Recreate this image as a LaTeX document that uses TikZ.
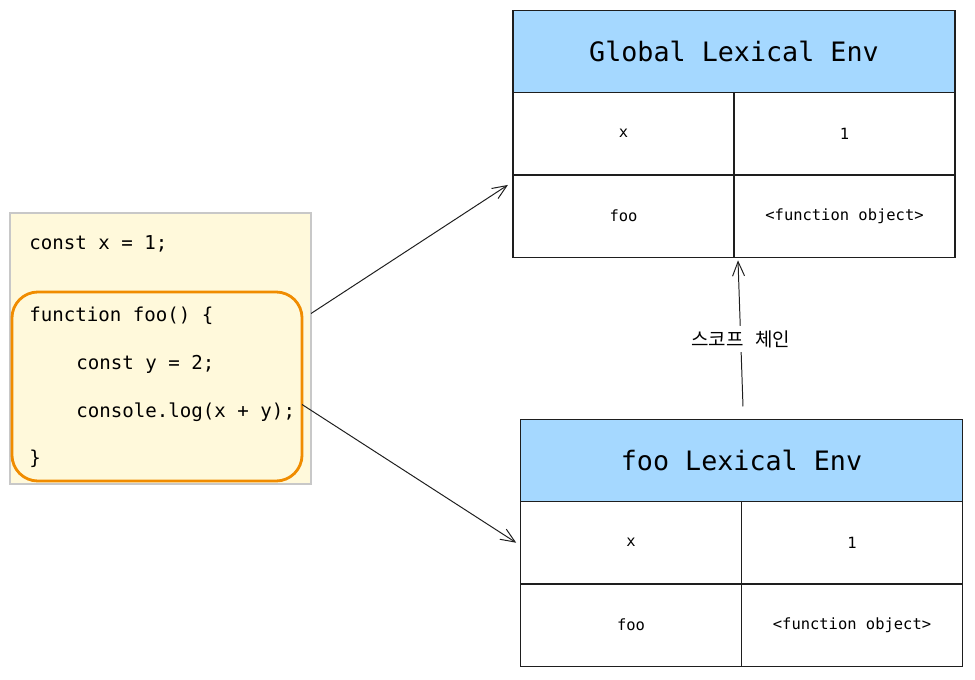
\documentclass[tikz,border=0pt]{standalone}
\usepackage{fontspec}
\setmonofont{DejaVu Sans Mono}
\newfontfamily\kofont{Noto Sans CJK KR}
\usetikzlibrary{positioning,arrows.meta}
\definecolor{notebg}{HTML}{FFF9DB}
\definecolor{noteline}{HTML}{C8C8C8}
\definecolor{fnorange}{HTML}{F08C00}
\definecolor{envblue}{HTML}{A5D8FF}
\definecolor{ink}{HTML}{1E1E1E}
\begin{document}
\begin{tikzpicture}
            [x=0.025cm, y=-0.025cm, font=\ttfamily,
            envhead/.style={draw=ink, line width=1pt, fill=envblue, outer sep=0pt,
                minimum width=11.05cm, minimum height=2.05cm,
                font=\fontsize{19}{22}\selectfont\ttfamily},
            cell/.style={draw=ink, line width=0.9pt, fill=white, outer sep=0pt,
                minimum width=5.525cm, minimum height=2.06cm,
                font=\fontsize{11}{13}\selectfont\ttfamily},
            codeline/.style={anchor=west, inner sep=0pt,
                font=\fontsize{13.6}{16}\selectfont\ttfamily},
            link/.style={draw=ink, line width=0.7pt, -{Straight Barb[length=3.6mm, width=3mm]}}]
            \useasboundingbox (0,0) rectangle (975,679);
            % source code
            \node [draw=noteline, line width=0.8pt, fill=notebg, minimum width=7.525cm,
                minimum height=6.775cm, outer sep=0pt] (code) at (160.5,348.5) {};
            \node [draw=fnorange, line width=2pt, rounded corners=0.65cm, minimum width=7.25cm,
                minimum height=4.725cm, outer sep=0pt] (fnbody) at (157,386.5) {};
            \node [codeline] (line1) at (29,244) {const x = 1;};
            \node [codeline] (line2) at (29,316) {function foo() \{};
            \node [codeline] (line3) at (76,364) {const y = 2;};
            \node [codeline] (line4) at (76,412) {console.log(x + y);};
            \node [codeline] (line5) at (29,459) {\}};
            % global environment
            \node [envhead] (ghead) at (734,51.5) {Global Lexical Env};
            \node [cell, below right=0pt of ghead.south west] (gx) {x};
            \node [cell, right=0pt of gx] (gxval) {1};
            \node [cell, below=0pt of gx] (gfoo) {foo};
            \node [cell, right=0pt of gfoo] (gfooval) {<function object>};
            % foo environment
            \node [envhead] (fhead) at (741.5,460.5) {foo Lexical Env};
            \node [cell, below right=0pt of fhead.south west] (fx) {x};
            \node [cell, right=0pt of fx] (fxval) {1};
            \node [cell, below=0pt of fx] (ffoo) {foo};
            \node [cell, right=0pt of ffoo] (ffooval) {<function object>};
            % connectors
            \draw [link] ([yshift=0.875cm]code.east) -- ([shift={(-5,10)}]gfoo.north west);
            \draw [link] ([yshift=-0.45cm]fnbody.east) -- ([xshift=-3]fx.west);
            \draw [link] ([shift={(1.5,-13)}]fhead.north) -- node [pos=0.46, fill=white, inner sep=3pt,
                font=\fontsize{13.5}{16}\selectfont\kofont] (chain) {스코프\hspace{0.6em}체인}
                ([shift={(4,3)}]gfoo.south east);
\end{tikzpicture}
\end{document}
